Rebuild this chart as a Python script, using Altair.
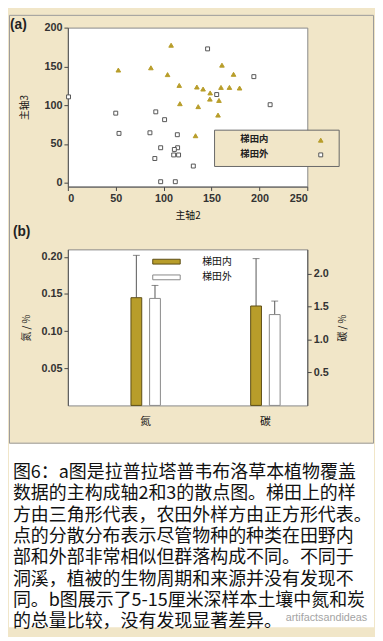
import altair as alt
import pandas as pd

# ---------------- data: panel (a) ----------------
groups = ["梯田内", "梯田外"]
tri_x = [52.7, 86.7, 107.8, 104.1, 116.3, 117.0, 134.7, 141.2, 148.6, 148.3,
         136.1, 160.9, 159.9, 168.7, 173.0, 179.3, 157.8, 156.8, 133.3]
tri_y = [145.3, 148.2, 177.3, 139.4, 125.5, 101.9, 123.4, 120.8, 115.8, 107.8,
         98.1, 151.6, 122.9, 122.9, 139.8, 122.1, 106.1, 87.2, 60.6]
sq_x = [0.7, 50.0, 53.4, 91.8, 101.0, 85.7, 114.3, 96.9, 114.6, 111.2,
        110.5, 115.6, 90.8, 131.0, 96.9, 112.2, 145.9, 155.4, 194.2, 211.2]
sq_y = [110.7, 89.7, 63.6, 91.4, 81.3, 64.4, 61.9, 45.1, 45.1, 42.9,
        35.8, 35.8, 31.2, 21.5, 1.3, 1.3, 172.6, 113.7, 136.8, 100.6]
x_ticks_a = [0, 50, 100, 150, 200, 250]
y_ticks_a = [0, 50, 100, 150, 200]

# ---------------- data: panel (b) ----------------
nutrients = ["氮", "碳"]
n_mean = [0.145, 0.144]
n_upper = [0.202, 0.1615]
c_mean = [1.51, 1.38]
c_upper = [2.23, 1.585]
y_ticks_n = [0.05, 0.10, 0.15, 0.20]
y_ticks_c = [0.5, 1.0, 1.5, 2.0]

caption_lines = [
    "图6：a图是拉普拉塔普韦布洛草本植物覆盖",
    "数据的主构成轴2和3的散点图。梯田上的样",
    "方由三角形代表，农田外样方由正方形代表。",
    "点的分散分布表示尽管物种的种类在田野内",
    "部和外部非常相似但群落构成不同。不同于",
    "洞溪，植被的生物周期和来源并没有发现不",
    "同。b图展示了5-15厘米深样本土壤中氮和炭",
    "的总量比较，没有发现显著差异。",
]
watermark = "artifactsandideas"

# ---------------- styles ----------------
GOLD = "#b89d2a"
GOLD_EDGE = "#5c4c14"
BEIGE = "#f1e6c8"
CJK = "Noto Sans CJK SC"
LATIN = "Liberation Sans"
W = 244


def lin_axis(**kw):
    base = dict(labelFont=LATIN, labelFontSize=11, labelFontWeight="bold",
                labelColor="#333333", tickColor="#444444", tickSize=4,
                labelPadding=2, grid=False, titleFont=CJK, titleFontSize=10,
                titleFontWeight="normal", titleColor="#111111",
                domainColor="#555555")
    base.update(kw)
    return alt.Axis(**base)


# ---------------- panel (a) ----------------
scatter_df = pd.DataFrame({
    "x": tri_x + sq_x,
    "y": tri_y + sq_y,
    "g": [groups[0]] * len(tri_x) + [groups[1]] * len(sq_x),
})

xa = alt.X("x:Q", scale=alt.Scale(domain=[0, 250], nice=False, zero=False),
           axis=lin_axis(values=x_ticks_a, title="主轴2", titlePadding=8))
ya = alt.Y("y:Q", scale=alt.Scale(domain=[-5, 200], nice=False, zero=False),
           axis=lin_axis(values=y_ticks_a, title="主轴3", titlePadding=15))

shape_enc = alt.Shape("g:N", scale=alt.Scale(domain=groups, range=["triangle-up", "square"]), legend=None)
pfill_enc = alt.Fill("g:N", scale=alt.Scale(domain=groups, range=[GOLD, "white"]), legend=None)
pstroke_enc = alt.Stroke("g:N", scale=alt.Scale(domain=groups, range=[GOLD, "#555555"]), legend=None)
psize_enc = alt.Size("g:N", scale=alt.Scale(domain=groups, range=[22, 16]), legend=None)

points = alt.Chart(scatter_df).mark_point(strokeWidth=1, opacity=1).encode(
    x=xa, y=ya, shape=shape_enc, fill=pfill_enc, stroke=pstroke_enc, size=psize_enc)

leg_box = alt.Chart(pd.DataFrame({"k": [0]})).mark_rect(
    fill=BEIGE, stroke="#666666", strokeWidth=1).encode(
    x=alt.value(149.5), x2=alt.value(276.5), y=alt.value(104.5), y2=alt.value(141.5))

leg_layers = []
for i, g in enumerate(groups):
    d = pd.DataFrame({"g": [g]})
    leg_layers.append(alt.Chart(d).mark_text(
        align="center", baseline="middle", font=CJK, fontSize=9.5,
        fontWeight="bold", color="#222222").encode(
        x=alt.value(190), y=alt.value(114 + 15 * i), text="g:N"))
    leg_layers.append(alt.Chart(d).mark_point(strokeWidth=1, opacity=1).encode(
        x=alt.value(257.7), y=alt.value(114.7 + 15 * i),
        shape=shape_enc, fill=pfill_enc, stroke=pstroke_enc, size=psize_enc))

lab_a = alt.Chart(pd.DataFrame({"t": ["(a)"]})).mark_text(
    align="left", baseline="middle", font=LATIN, fontSize=14,
    fontWeight="bold", color="#222222").encode(
    x=alt.value(-59), y=alt.value(-2.5), text="t:N")

panel_a = alt.layer(points, leg_box, *leg_layers, lab_a).properties(width=W, height=162)

# ---------------- panel (b) ----------------
n_df = pd.DataFrame({"nut": [nutrients[0]] * 2, "g": groups, "v": n_mean, "u": n_upper})
c_df = pd.DataFrame({"nut": [nutrients[1]] * 2, "g": groups, "v": c_mean, "u": c_upper})

xb = alt.X("nut:N", sort=nutrients,
           scale=alt.Scale(domain=nutrients, paddingInner=0.6, paddingOuter=0.3, align=0.75),
           axis=alt.Axis(title=None, ticks=False, tickSize=0, domain=False, labelPadding=10,
                         labelAngle=0, labelFont=CJK, labelFontSize=11,
                         labelFontWeight="normal", labelColor="#111111"))
xo = alt.XOffset("g:N", scale=alt.Scale(domain=groups, paddingInner=0, paddingOuter=0.284))

legend_b = alt.Legend(title=None, orient="none", legendX=93, legendY=5,
                      direction="vertical", symbolType="M-2,-0.35H2V0.35H-2Z",
                      symbolSize=196, symbolStrokeWidth=1, labelOffset=29,
                      rowPadding=3, labelFont=CJK, labelFontSize=10,
                      labelColor="#111111", labelFontWeight="normal")
bfill = alt.Fill("g:N", scale=alt.Scale(domain=groups, range=[GOLD, "white"]), legend=legend_b)
bstroke = alt.Stroke("g:N", scale=alt.Scale(domain=groups, range=[GOLD_EDGE, "#888888"]), legend=legend_b)


def y_n(field):
    return alt.Y(field, scale=alt.Scale(domain=[0, 0.21], nice=False, zero=True),
                 axis=lin_axis(values=y_ticks_n, format=".2f", title="氮 / %", titlePadding=10))


def y_c(field):
    return alt.Y(field, scale=alt.Scale(domain=[0, 2.37], nice=False, zero=True),
                 axis=lin_axis(values=y_ticks_c, format=".1f", title="碳 / %", orient="right",
                               titleAngle=270, titleBaseline="top", titlePadding=10))


def nutrient_layer(df, yfun):
    bars = alt.Chart(df).mark_bar(size=11, strokeWidth=1).encode(
        x=xb, xOffset=xo, y=yfun("v:Q"), fill=bfill, stroke=bstroke)
    err = alt.Chart(df).mark_rule(color="#555555", strokeWidth=1).encode(
        x=xb, xOffset=xo, y=yfun("v:Q"), y2=alt.Y2("u:Q"))
    cap = alt.Chart(df).mark_tick(color="#555555", size=7, thickness=1).encode(
        x=xb, xOffset=xo, y=yfun("u:Q"))
    return alt.layer(err, cap, bars)


left = nutrient_layer(n_df, y_n)
right = nutrient_layer(c_df, y_c)

lab_b = alt.Chart(pd.DataFrame({"t": ["(b)"]})).mark_text(
    align="left", baseline="middle", font=LATIN, fontSize=14,
    fontWeight="bold", color="#222222").encode(
    x=alt.value(-56), y=alt.value(-17.5), text="t:N")

panel_b = alt.layer(left, right, lab_b).resolve_scale(y="independent").properties(width=W, height=159)

# ---------------- caption ----------------
cap_data = alt.Data(values=[{"t": caption_lines}])
white = alt.Chart(pd.DataFrame({"k": [0]})).mark_rect(fill="white").encode(
    x=alt.value(-60), x2=alt.value(312), y=alt.value(-25), y2=alt.value(162))
border = alt.Chart(pd.DataFrame({"k": [0]})).mark_rect(
    fillOpacity=0, stroke="#999999", strokeWidth=1).encode(
    x=alt.value(-59.5), x2=alt.value(311.5), y=alt.value(-461.5), y2=alt.value(-25.5))
caption_text = alt.Chart(cap_data).mark_text(
    align="left", baseline="top", font=CJK, fontSize=18.3, lineHeight=21.7,
    color="#111111").encode(x=alt.value(-56), y=alt.value(-4), text="t:N")
wm = alt.Chart(pd.DataFrame({"t": [watermark]})).mark_text(
    align="left", baseline="middle", font=LATIN, fontSize=11,
    color="#9a9a9a", opacity=0.9).encode(x=alt.value(222), y=alt.value(153), text="t:N")

caption = alt.layer(white, border, caption_text, wm).properties(
    width=W, height=1, view=alt.ViewBackground(stroke="transparent", fill="transparent"))

chart = alt.vconcat(panel_a, panel_b, caption, spacing=64, bounds="flush").resolve_scale(
    fill="independent", stroke="independent", shape="independent", size="independent"
).properties(padding=0, background=BEIGE).configure_view(stroke="#888888", fill="white")

chart.save("out.html", embed_options={"renderer": "svg", "actions": False})
